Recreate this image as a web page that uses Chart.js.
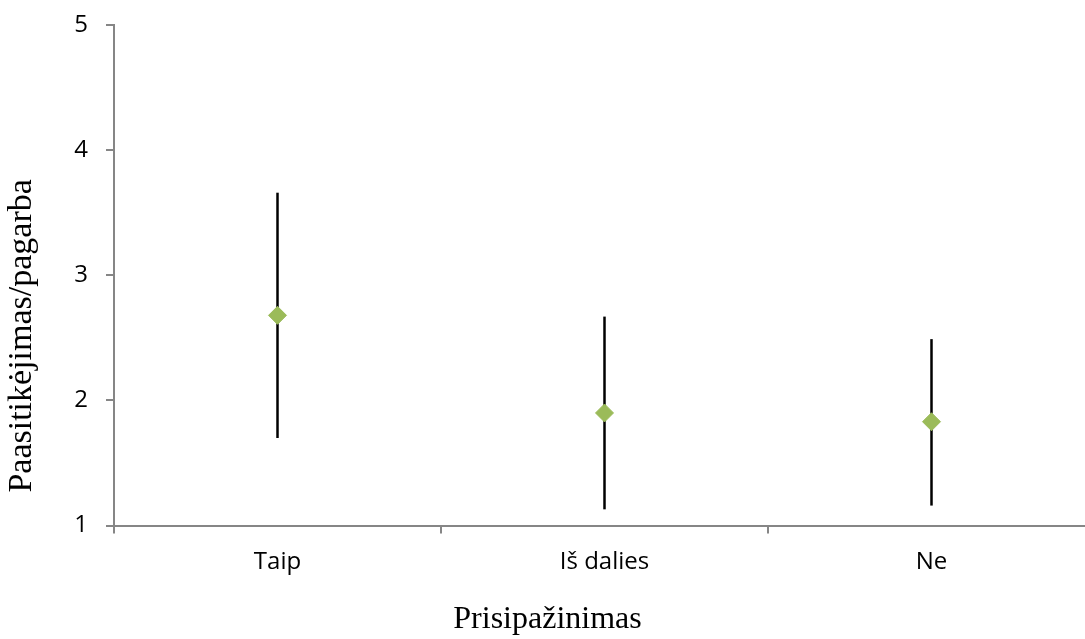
<!DOCTYPE html>
<html>
<head>
<meta charset="utf-8">
<script src="https://cdn.jsdelivr.net/npm/chart.js@4"></script>
<style>
  html, body { margin: 0; padding: 0; overflow: hidden; background: #fff; }
</style>
</head>
<body>
<canvas id="chart" width="1122" height="639"></canvas>
<script>
// Data
const categories = ["Taip", "Iš dalies", "Ne"];
const means = [2.68, 1.90, 1.83];
const upper = [3.66, 2.67, 2.49];
const lower = [1.70, 1.13, 1.16];
const yTicks = [1, 2, 3, 4, 5];
const yTitle = "Paasitikėjimas/pagarba";

const axisGrey = "#868686";

// vertical error lines under the markers
const errorBars = {
    id: "errorBars",
    beforeDatasetsDraw(chart) {
        const x = chart.scales.x;
        const y = chart.scales.y;
        const ctx = chart.ctx;
        ctx.save();
        ctx.strokeStyle = "#000";
        ctx.lineWidth = 2.5;
        categories.forEach((c, i) => {
            const px = x.getPixelForValue(i);
            ctx.beginPath();
            ctx.moveTo(px, y.getPixelForValue(upper[i]));
            ctx.lineTo(px, y.getPixelForValue(lower[i]));
            ctx.stroke();
        });
        ctx.restore();
    }
};

// y axis title, sits a bit above the plot centre like in Excel
const yAxisTitle = {
    id: "yAxisTitle",
    afterDraw(chart) {
        const ctx = chart.ctx;
        ctx.save();
        ctx.translate(31, chart.chartArea.bottom - 33);
        ctx.rotate(-Math.PI / 2);
        ctx.font = "34px 'Liberation Serif'";
        ctx.fillStyle = "#000";
        ctx.textAlign = "left";
        ctx.textBaseline = "alphabetic";
        ctx.fillText(yTitle, 0, 0);
        ctx.restore();
    }
};

const ctx = document.getElementById("chart").getContext("2d");
new Chart(ctx, {
    type: "line",
    data: {
        labels: categories,
        datasets: [
            {
                data: means,
                showLine: false,
                pointStyle: "rectRot",
                pointRadius: 9,
                backgroundColor: "#9BBB59",
                borderColor: "#9BBB59",
                borderWidth: 1,
            },
        ],
    },
    options: {
        responsive: false,
        animation: false,
        layout: { padding: { top: 25, right: 27, left: 0, bottom: 0 } },
        plugins: {
            legend: { display: false },
            tooltip: { enabled: false },
            title: {
                display: true,
                position: "bottom",
                text: "Prisipažinimas",
                color: "#000",
                font: { family: "Liberation Serif", size: 32, weight: "normal" },
                padding: { top: 0, bottom: 0 },
            },
        },
        scales: {
            x: {
                type: "category",
                offset: true,
                afterFit(s) { s.height = 75; },
                grid: {
                    offset: true,
                    drawOnChartArea: false,
                    tickLength: 8,
                    color: axisGrey,
                    lineWidth: 2,
                },
                border: { display: true, color: axisGrey, width: 2 },
                ticks: {
                    color: "#000",
                    padding: 14,
                    font: { family: "Open Sans", size: 24 },
                },
            },
            y: {
                min: 1,
                max: 5,
                afterFit(s) { s.width = 114; },
                afterBuildTicks(s) { s.ticks = yTicks.map(v => ({ value: v })); },
                grid: {
                    drawOnChartArea: false,
                    tickLength: 8,
                    color: axisGrey,
                    lineWidth: 2,
                },
                border: { display: true, color: axisGrey, width: 2 },
                ticks: {
                    color: "#000",
                    padding: 18,
                    font: { family: "Open Sans", size: 24, lineHeight: 0.3 },
                },
            },
        },
    },
    plugins: [errorBars, yAxisTitle],
});
</script>
</body>
</html>
